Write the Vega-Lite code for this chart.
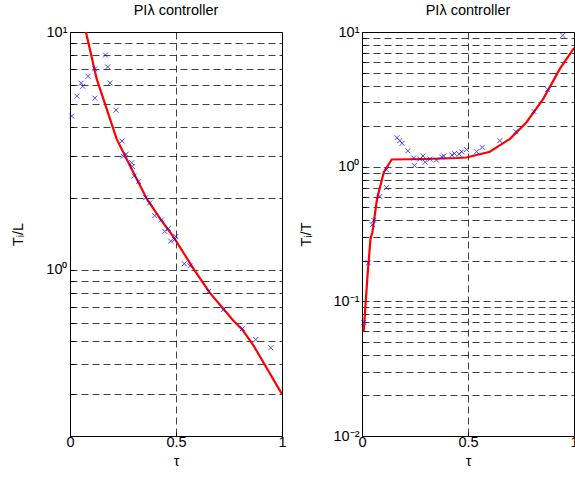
{
  "$schema": "https://vega.github.io/schema/vega-lite/v6.json",
  "padding": {"left": 10, "top": 2, "right": 0, "bottom": 5},
  "spacing": 80,
  "bounds": "flush",
  "background": "white",
  "config": {
    "font": "Liberation Sans",
    "view": {"stroke": "black", "strokeWidth": 1},
    "axis": {
      "domainColor": "black",
      "tickColor": "black",
      "labelColor": "black",
      "titleColor": "black",
      "labelFontSize": 14.5,
      "titleFontSize": 14.5,
      "titleFontWeight": "normal",
      "grid": true,
      "gridColor": "black",
      "gridDash": [7, 4],
      "gridOpacity": 0.75,
      "tickSize": -4,
      "labelFlush": false,
      "labelOverlap": false
    },
    "title": {"fontSize": 14.5, "fontWeight": "normal", "offset": 6, "color": "black"}
  },
  "datasets": {
    "leftPts": [
      {"tau": 0.008, "v": 4.43}, {"tau": 0.033, "v": 5.37}, {"tau": 0.053, "v": 6.09}, {"tau": 0.06, "v": 5.91},
      {"tau": 0.085, "v": 6.51}, {"tau": 0.117, "v": 7.0}, {"tau": 0.117, "v": 5.27}, {"tau": 0.167, "v": 8.0},
      {"tau": 0.178, "v": 7.13}, {"tau": 0.189, "v": 6.1}, {"tau": 0.217, "v": 4.69}, {"tau": 0.245, "v": 3.48},
      {"tau": 0.264, "v": 3.06}, {"tau": 0.251, "v": 3.0}, {"tau": 0.291, "v": 2.82}, {"tau": 0.294, "v": 2.72},
      {"tau": 0.303, "v": 2.48}, {"tau": 0.324, "v": 2.35}, {"tau": 0.357, "v": 2.01}, {"tau": 0.376, "v": 1.91},
      {"tau": 0.4, "v": 1.69}, {"tau": 0.431, "v": 1.62}, {"tau": 0.447, "v": 1.45}, {"tau": 0.464, "v": 1.49},
      {"tau": 0.499, "v": 1.38}, {"tau": 0.475, "v": 1.32}, {"tau": 0.494, "v": 1.34}, {"tau": 0.539, "v": 1.06},
      {"tau": 0.566, "v": 1.04}, {"tau": 0.654, "v": 0.81}, {"tau": 0.723, "v": 0.68}, {"tau": 0.813, "v": 0.565},
      {"tau": 0.876, "v": 0.509}, {"tau": 0.947, "v": 0.47}
    ],
    "leftLine": [
      {"tau": 0.075, "v": 10.0}, {"tau": 0.126, "v": 6.35}, {"tau": 0.173, "v": 4.75}, {"tau": 0.22, "v": 3.55},
      {"tau": 0.283, "v": 2.74}, {"tau": 0.362, "v": 1.99}, {"tau": 0.425, "v": 1.64}, {"tau": 0.487, "v": 1.38},
      {"tau": 0.586, "v": 1.0}, {"tau": 0.66, "v": 0.8}, {"tau": 0.77, "v": 0.612}, {"tau": 0.813, "v": 0.56},
      {"tau": 0.865, "v": 0.481}, {"tau": 1.0, "v": 0.3}
    ],
    "rightPts": [
      {"tau": 0.947, "v": 9.44}, {"tau": 0.876, "v": 3.74}, {"tau": 0.811, "v": 2.57}, {"tau": 0.726, "v": 1.82},
      {"tau": 0.65, "v": 1.56}, {"tau": 0.567, "v": 1.39}, {"tau": 0.54, "v": 1.29}, {"tau": 0.493, "v": 1.34},
      {"tau": 0.47, "v": 1.29}, {"tau": 0.458, "v": 1.24}, {"tau": 0.436, "v": 1.25}, {"tau": 0.424, "v": 1.22},
      {"tau": 0.386, "v": 1.2}, {"tau": 0.376, "v": 1.18}, {"tau": 0.351, "v": 1.12}, {"tau": 0.32, "v": 1.14},
      {"tau": 0.298, "v": 1.08}, {"tau": 0.288, "v": 1.2}, {"tau": 0.273, "v": 1.14}, {"tau": 0.247, "v": 1.02},
      {"tau": 0.244, "v": 1.16}, {"tau": 0.216, "v": 1.31}, {"tau": 0.189, "v": 1.49}, {"tau": 0.178, "v": 1.56},
      {"tau": 0.165, "v": 1.64}, {"tau": 0.115, "v": 0.95}, {"tau": 0.115, "v": 0.7}, {"tau": 0.084, "v": 0.6},
      {"tau": 0.055, "v": 0.4}, {"tau": 0.049, "v": 0.37}, {"tau": 0.03, "v": 0.193}, {"tau": 0.008, "v": 0.0698}
    ],
    "rightLine": [
      {"tau": 0.008, "v": 0.0594}, {"tau": 0.026, "v": 0.155}, {"tau": 0.04, "v": 0.29}, {"tau": 0.049, "v": 0.326},
      {"tau": 0.071, "v": 0.577}, {"tau": 0.103, "v": 0.91}, {"tau": 0.14, "v": 1.13}, {"tau": 0.3, "v": 1.14},
      {"tau": 0.45, "v": 1.16}, {"tau": 0.493, "v": 1.17}, {"tau": 0.603, "v": 1.29}, {"tau": 0.698, "v": 1.61},
      {"tau": 0.776, "v": 2.14}, {"tau": 0.855, "v": 3.19}, {"tau": 0.934, "v": 5.34}, {"tau": 1.0, "v": 7.6}
    ]
  },
  "hconcat": [
    {
      "width": 212,
      "height": 404,
      "title": "PIλ controller",
      "encoding": {
        "x": {
          "field": "tau", "type": "quantitative",
          "scale": {"domain": [0, 1], "nice": false},
          "axis": {"values": [0, 0.5, 1], "format": "~g", "title": "τ", "labelPadding": 3, "titlePadding": 6}
        },
        "y": {
          "field": "v", "type": "quantitative",
          "scale": {"type": "log", "domain": [0.2, 10], "nice": false},
          "axis": {
            "values": [0.3, 0.4, 0.5, 0.6, 0.7, 0.8, 0.9, 1, 2, 3, 4, 5, 6, 7, 8, 9, 10],
            "labelExpr": "datum.value == 1 ? '10⁰' : datum.value == 10 ? '10¹' : ''",
            "title": "Tᵢ/L", "labelPadding": 7, "titlePadding": 20
          }
        }
      },
      "layer": [
        {"data": {"name": "leftLine"}, "mark": {"type": "line", "color": "#ff0000", "strokeWidth": 2.2, "clip": true}},
        {"data": {"name": "leftPts"}, "mark": {"type": "point", "shape": "M-1,-1L1,1M1,-1L-1,1", "size": 25, "color": "#0000ff", "strokeWidth": 1, "filled": false}}
      ]
    },
    {
      "width": 212,
      "height": 404,
      "title": "PIλ controller",
      "encoding": {
        "x": {
          "field": "tau", "type": "quantitative",
          "scale": {"domain": [0, 1], "nice": false},
          "axis": {"values": [0, 0.5, 1], "format": "~g", "title": "τ", "labelPadding": 3, "titlePadding": 6}
        },
        "y": {
          "field": "v", "type": "quantitative",
          "scale": {"type": "log", "domain": [0.01, 10], "nice": false},
          "axis": {
            "values": [0.01, 0.02, 0.03, 0.04, 0.05, 0.06, 0.07, 0.08, 0.09, 0.1, 0.2, 0.3, 0.4, 0.5, 0.6, 0.7, 0.8, 0.9, 1, 2, 3, 4, 5, 6, 7, 8, 9, 10],
            "labelExpr": "datum.value == 1 ? '10⁰' : datum.value == 10 ? '10¹' : datum.value == 0.1 ? '10⁻¹' : datum.value == 0.01 ? '10⁻²' : ''",
            "title": "Tᵢ/T", "labelPadding": 7, "titlePadding": 20
          }
        }
      },
      "layer": [
        {"data": {"name": "rightLine"}, "mark": {"type": "line", "color": "#ff0000", "strokeWidth": 2.2, "clip": true}},
        {"data": {"name": "rightPts"}, "mark": {"type": "point", "shape": "M-1,-1L1,1M1,-1L-1,1", "size": 25, "color": "#0000ff", "strokeWidth": 1, "filled": false}}
      ]
    }
  ]
}
